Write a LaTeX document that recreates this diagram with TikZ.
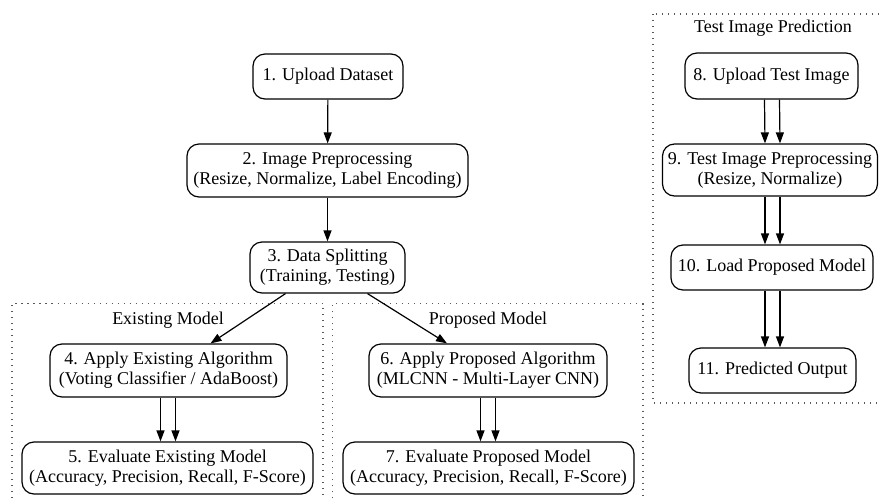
\documentclass[tikz,border=0pt]{standalone}
\usepackage{fontspec}
\setmainfont{Liberation Serif}
\usetikzlibrary{arrows.meta}
\begin{document}
\begin{tikzpicture}[x=1pt,y=-1pt,
  box/.style={draw, rounded corners=12pt, line width=1.2pt, align=center, inner sep=0pt,
    font=\fontsize{18}{20}\selectfont},
  lbl/.style={font=\fontsize{18}{20}\selectfont},
  cl/.style={line width=1.3pt, gray!70!black, dash pattern=on 1.3pt off 4.7pt},
  arr/.style={-{Triangle[length=11pt,width=8pt]}, line width=1.2pt}]
\useasboundingbox (0,0) rectangle (879,499);
% clusters
\draw[cl] (12,510) -- (12,303.5) -- (323,303.5) -- (323,510);
\draw[cl] (332.5,510) -- (332.5,303.5) -- (643,303.5) -- (643,510);
\draw[cl] (653,14) rectangle (890,403);
\node[lbl] (lex) at (168,320) {Existing Model};
\node[lbl] (lpr) at (488,320) {Proposed Model};
\node[lbl] (lte) at (773,28) {Test Image Prediction};
% nodes
\node[box, minimum width=150pt, minimum height=45pt] (n1) at (328,76.5) {1. Upload Dataset};
\node[box, minimum width=281pt, minimum height=53pt] (n2) at (327.5,170.5) {2. Image Preprocessing\\(Resize, Normalize, Label Encoding)};
\node[box, minimum width=155pt, minimum height=51pt] (n3) at (327.5,267.5) {3. Data Splitting\\(Training, Testing)};
\node[box, minimum width=237pt, minimum height=53pt] (n4) at (168.5,370.5) {4. Apply Existing Algorithm\\(Voting Classifier / AdaBoost)};
\node[box, minimum width=291pt, minimum height=52pt] (n5) at (167.5,468) {5. Evaluate Existing Model\\(Accuracy, Precision, Recall, F-Score)};
\node[box, minimum width=238pt, minimum height=53pt] (n6) at (488,370.5) {6. Apply Proposed Algorithm\\(MLCNN - Multi-Layer CNN)};
\node[box, minimum width=291pt, minimum height=52pt] (n7) at (488.5,468) {7. Evaluate Proposed Model\\(Accuracy, Precision, Recall, F-Score)};
\node[box, minimum width=173pt, minimum height=46pt] (n8) at (771.5,76) {8. Upload Test Image};
\node[box, minimum width=215pt, minimum height=52pt] (n9) at (770,170) {9. Test Image Preprocessing\\(Resize, Normalize)};
\node[box, minimum width=202pt, minimum height=45pt] (n10) at (772,267.5) {10. Load Proposed Model};
\node[box, minimum width=167pt, minimum height=45pt] (n11) at (772.5,370.5) {11. Predicted Output};
% edges
\draw[arr] (n1) -- (n2);
\draw[arr] (n2) -- (n3);
\draw[arr] ([xshift=-42pt]n3.south) -- ([xshift=42pt]n4.north);
\draw[arr] ([xshift=40pt]n3.south) -- ([xshift=-41pt]n6.north);
\draw[arr] ([xshift=-8pt]n4.south) -- ([xshift=-7pt]n5.north);
\draw[arr] ([xshift=7pt]n4.south) -- ([xshift=8pt]n5.north);
\draw[arr] ([xshift=-7.5pt]n6.south) -- ([xshift=-8pt]n7.north);
\draw[arr] ([xshift=7.5pt]n6.south) -- ([xshift=7pt]n7.north);
\draw[arr] ([xshift=-7pt]n8.south) -- ([xshift=-5pt]n9.north);
\draw[arr] ([xshift=8pt]n8.south) -- ([xshift=10pt]n9.north);
\draw[arr] ([xshift=-5pt]n9.south) -- ([xshift=-7pt]n10.north);
\draw[arr] ([xshift=10pt]n9.south) -- ([xshift=8pt]n10.north);
\draw[arr] ([xshift=-7pt]n10.south) -- ([xshift=-7.5pt]n11.north);
\draw[arr] ([xshift=8pt]n10.south) -- ([xshift=7.5pt]n11.north);
\end{tikzpicture}
\end{document}
